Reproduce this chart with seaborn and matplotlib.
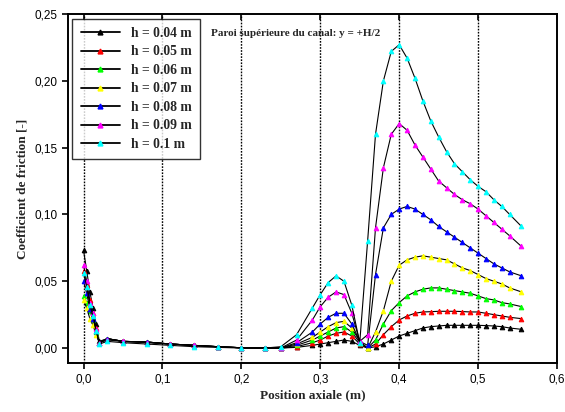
import numpy as np
import pandas as pd
import matplotlib
matplotlib.use("Agg")
import matplotlib.pyplot as plt
import seaborn as sns
from matplotlib.lines import Line2D
from matplotlib.ticker import FuncFormatter

# ---- data ----
x_pos = [0.0, 0.004, 0.008, 0.012, 0.016, 0.02, 0.03, 0.05, 0.08, 0.11, 0.14, 0.17, 0.2, 0.23,
         0.25, 0.27, 0.29, 0.30, 0.31, 0.32, 0.33, 0.34, 0.35, 0.36, 0.37, 0.38, 0.39, 0.40,
         0.41, 0.42, 0.43, 0.44, 0.45, 0.46, 0.47, 0.48, 0.49, 0.50, 0.51, 0.52, 0.53, 0.54, 0.555]

h_labels = ["h = 0.04 m", "h = 0.05 m", "h = 0.06 m", "h = 0.07 m",
            "h = 0.08 m", "h = 0.09 m", "h = 0.1 m"]

cf_h004 = [0.073, 0.058, 0.042, 0.030, 0.018, 0.005, 0.007, 0.005, 0.0045, 0.003, 0.002, 0.001, 0.0002, 0.0,
           0.0, 0.0005, 0.002, 0.003, 0.004, 0.005, 0.006, 0.005, 0.002, 0.0, 0.001, 0.003, 0.006, 0.009,
           0.011, 0.013, 0.015, 0.016, 0.0165, 0.017, 0.017, 0.017, 0.017, 0.017, 0.0168, 0.0165, 0.016, 0.015, 0.014]
cf_h005 = [0.058, 0.047, 0.036, 0.026, 0.015, 0.004, 0.007, 0.005, 0.0045, 0.003, 0.002, 0.001, 0.0002, 0.0,
           0.0, 0.001, 0.004, 0.006, 0.009, 0.011, 0.012, 0.009, 0.003, 0.0, 0.003, 0.010, 0.016, 0.021,
           0.024, 0.026, 0.027, 0.0272, 0.0275, 0.0275, 0.0275, 0.0273, 0.027, 0.027, 0.026, 0.025, 0.024, 0.023, 0.022]
cf_h006 = [0.039, 0.034, 0.028, 0.021, 0.012, 0.004, 0.007, 0.005, 0.0045, 0.003, 0.002, 0.001, 0.0002, 0.0,
           0.0, 0.002, 0.006, 0.009, 0.012, 0.015, 0.016, 0.012, 0.004, 0.0, 0.006, 0.018, 0.028, 0.034,
           0.039, 0.042, 0.044, 0.045, 0.045, 0.044, 0.043, 0.042, 0.041, 0.039, 0.037, 0.036, 0.034, 0.033, 0.031]
cf_h007 = [0.036, 0.030, 0.022, 0.017, 0.010, 0.004, 0.007, 0.005, 0.0045, 0.003, 0.002, 0.001, 0.0002, 0.0,
           0.0, 0.003, 0.008, 0.012, 0.016, 0.019, 0.020, 0.015, 0.005, 0.0, 0.012, 0.028, 0.050, 0.062,
           0.066, 0.068, 0.069, 0.068, 0.067, 0.066, 0.063, 0.060, 0.058, 0.055, 0.052, 0.050, 0.048, 0.045, 0.042]
cf_h008 = [0.050, 0.041, 0.029, 0.022, 0.013, 0.004, 0.007, 0.005, 0.0045, 0.003, 0.002, 0.001, 0.0002, 0.0,
           0.0, 0.004, 0.012, 0.018, 0.023, 0.026, 0.026, 0.018, 0.005, 0.002, 0.055, 0.090, 0.100, 0.104,
           0.106, 0.104, 0.100, 0.096, 0.091, 0.087, 0.083, 0.079, 0.075, 0.071, 0.067, 0.063, 0.060, 0.057, 0.054]
cf_h009 = [0.062, 0.050, 0.034, 0.026, 0.014, 0.004, 0.006, 0.005, 0.004, 0.003, 0.002, 0.001, 0.0002, 0.0,
           0.0, 0.006, 0.021, 0.031, 0.038, 0.042, 0.040, 0.026, 0.005, 0.010, 0.090, 0.135, 0.160, 0.168,
           0.163, 0.152, 0.143, 0.134, 0.125, 0.120, 0.115, 0.111, 0.108, 0.104, 0.099, 0.094, 0.089, 0.084, 0.076]
cf_h010 = [0.056, 0.046, 0.032, 0.024, 0.013, 0.003, 0.005, 0.004, 0.003, 0.002, 0.001, 0.0005, 0.0, 0.0,
           0.001, 0.010, 0.030, 0.040, 0.049, 0.054, 0.050, 0.032, 0.004, 0.080, 0.160, 0.200, 0.222, 0.227,
           0.217, 0.202, 0.185, 0.170, 0.158, 0.147, 0.138, 0.132, 0.126, 0.121, 0.117, 0.111, 0.106, 0.100, 0.091]

series = [cf_h004, cf_h005, cf_h006, cf_h007, cf_h008, cf_h009, cf_h010]
marker_colors = ["#000000", "#FF0000", "#00FF00", "#FFFF00", "#0000FF", "#FF00FF", "#00FFFF"]

x_ticks = [0.0, 0.1, 0.2, 0.3, 0.4, 0.5, 0.6]
y_ticks = [0.00, 0.05, 0.10, 0.15, 0.20, 0.25]

# ---- plot ----
sns.set_theme(style="white")
plt.rcParams["font.family"] = ["Liberation Sans", "DejaVu Sans"]

fig = plt.figure(figsize=(5.65, 4.12), dpi=100)
ax = fig.add_axes([68/565, 1 - 363/412, (557-68)/565, (363-14)/412])

serif = ["Liberation Serif", "DejaVu Serif"]

# vertical dotted grid lines
for xv in x_ticks[:-1]:
    ax.axvline(xv, color="black", lw=1.0, ls=(0, (1.2, 1.0)), zorder=0)

handles = []
for vals, col, lab in zip(series, marker_colors, h_labels):
    df = pd.DataFrame({"x": x_pos, "y": vals})
    sns.lineplot(data=df, x="x", y="y", ax=ax, color="black", lw=0.8,
                 marker="^", markersize=3.3, markerfacecolor=col, markeredgecolor=col,
                 estimator=None, sort=False, zorder=3)
    handles.append(Line2D([0], [0], color="black", lw=1.3, marker="^", markersize=3.5,
                          markerfacecolor=col, markeredgecolor=col, label=lab))

ax.set_xlim(-0.0197, 0.6)
ax.set_ylim(-0.0112, 0.25)
ax.set_xticks(x_ticks)
ax.set_yticks(y_ticks)
ax.xaxis.set_major_formatter(FuncFormatter(lambda v, p: f"{v:.1f}".replace(".", ",")))
ax.yaxis.set_major_formatter(FuncFormatter(lambda v, p: f"{v:.2f}".replace(".", ",")))
ax.tick_params(axis="both", which="major", labelsize=8.5, length=4, width=1.2,
               direction="out", colors="black", bottom=True, left=True)
ax.tick_params(axis="x", top=True, labeltop=False)
for sp in ax.spines.values():
    sp.set_visible(True)
    sp.set_color("black")
    sp.set_linewidth(1.4)

# top ticks point inward
for t in ax.xaxis.get_major_ticks():
    t.tick2line.set_marker(3)  # TICKDOWN
    t.tick2line.set_markersize(4)

ax.set_xlabel("Position axiale (m)", fontfamily=serif, fontweight="bold", fontsize=9.5, labelpad=3)
ax.set_ylabel("Coefficient de friction [-]", fontfamily=serif, fontweight="bold", fontsize=9.5, labelpad=4)

ax.text(0.293, 0.945, "Paroi supérieure du canal: y = +H/2", transform=ax.transAxes,
        fontfamily=serif, fontweight="bold", fontsize=8, va="center", ha="left")

leg = ax.legend(handles=handles, loc="upper left", bbox_to_anchor=(0.009, 0.986),
                frameon=True, fancybox=False, borderaxespad=0, handlelength=2.9,
                handletextpad=0.8, labelspacing=0.4, borderpad=0.6,
                prop={"family": serif, "weight": "bold", "size": 9.8})
leg.get_frame().set_edgecolor("black")
leg.get_frame().set_linewidth(1.0)

fig.savefig("out.png", dpi=100)
